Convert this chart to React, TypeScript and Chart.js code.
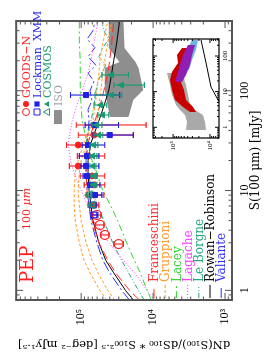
import React, { useEffect, useRef } from "react";
import { Chart, registerables } from "chart.js";

Chart.register(...registerables);

// ---------------- Main panel axes ----------------
const xRange = [0.8, 500];
const yRange = [800, 800000];
const xTickValues = [1, 10, 100];
const yTickValues = [1000, 10000, 100000];
const yTickLabels = ["10³", "10⁴", "10⁵"];

// ---------------- Models (S in mJy, counts) ----------------
const modelS = [0.8, 1, 1.5, 2, 3, 5, 7, 10, 15, 20, 30, 50, 70, 100, 150, 200, 300, 500];
const franceschiniC = [15500, 21300, 33200, 42700, 56700, 70700, 77700, 82800, 85400, 85400, 80200, 64300, 54900, 48400, 42700, 40100, 37600, 35300];
const gruppioniC = [44100, 54900, 75300, 91000, 106000, 121000, 125000, 125000, 121000, 110000, 91000, 68500, 64300, 60400, 56700, 54900, 50000, 42700];
const gruppioniBC = [34200, 42700, 58500, 70700, 85400, 100000, 106000, 110000, 106000, 100000, 82800, 60400, 56700, 53200, 50000, 46900, 42700, 37600];
const laceyC = [10600, 12100, 15100, 18200, 23400, 31100, 38800, 50000, 60400, 70700, 82800, 96900, 100000, 103000, 103000, 103000, 106000, 106000];
const lagacheC = [9690, 12100, 18200, 25800, 41400, 66400, 80200, 100000, 125000, 141000, 151000, 133000, 117000, 96900, 80200, 73000, 66400, 58500];
const rowanRobinsonC = [18800, 24200, 35300, 45500, 56700, 68500, 73000, 77700, 80200, 80200, 73000, 56700, 48400, 41400, 37600, 35300, 32100, 29200];
const leBorgneS = [0.8, 1, 1.5, 2, 3, 5, 7, 10, 15, 20, 30, 50, 70, 100, 125, 150, 180, 220, 270, 330, 400, 500];
const leBorgneC = [13300, 16000, 22000, 27400, 36500, 48400, 58500, 70700, 80200, 85400, 85400, 73000, 66400, 62300, 58500, 51600, 45500, 56700, 50000, 41400, 48400, 51600];
const valianteS = [0.8, 1, 1.5, 2, 3, 5, 7, 10, 15, 20, 30, 50, 65, 80, 100, 125, 150, 180, 220, 270, 330, 400, 500];
const valianteC = [21300, 27400, 40100, 50000, 60400, 73000, 77700, 82800, 85400, 85400, 82800, 77700, 80200, 70700, 75300, 66400, 80200, 62300, 80200, 64300, 82800, 68500, 64300];

// ---------------- Data ----------------
const goodsS = [45.4, 36.0, 28.6, 22.2, 17.6, 14.0, 11.4, 9.02, 7.16];
const goodsC = [66400, 66400, 110000, 80200, 110000, 70700, 66400, 66400, 66400];
const goodsHi = [117000, 110000, 160000, 113000, 146000, 103000, 91000, 85400, 80200];
const goodsLo = [12500, 18800, 77700, 46900, 80200, 46900, 46900, 48400, 56700];
const goodsOpenS = [5.69, 4.52, 3.59, 2.91];
const goodsOpenC = [60400, 54900, 46900, 30200];
const goodsOpenHi = [68500, 64300, 53200, 35300];
const goodsOpenLo = [53200, 48400, 41400, 25800];

const lockmanS = [90.6, 45.4, 36.0, 28.6, 22.2, 17.6, 14.0, 11.4, 9.02];
const lockmanC = [85400, 64300, 40100, 80200, 82800, 85400, 82800, 75300, 64300];
const lockmanHi = [141000, 88100, 68500, 96900, 106000, 100000, 93900, 80200, 75300];
const lockmanLo = [29200, 30200, 18800, 46900, 56700, 56700, 60400, 54900, 51600];
const lockmanOpenS = [7.16, 5.69];
const lockmanOpenC = [68500, 66400];
const lockmanOpenHi = [77700, 73000];
const lockmanOpenLo = [62300, 58500];

const cosmosS = [144, 114, 90.6, 71.9, 57.2, 45.4, 36.0, 28.6, 22.2, 17.6, 14.0, 11.4];
const cosmosC = [37600, 27400, 37600, 53200, 50000, 60400, 56700, 66400, 68500, 68500, 66400, 66400];
const cosmosHi = [51600, 35300, 64300, 66400, 58500, 70700, 66400, 75300, 75300, 75300, 73000, 73000];
const cosmosLo = [22000, 13200, 27400, 44100, 41400, 51600, 50000, 58500, 60400, 62300, 60400, 60400];
const cosmosOpenS = [9.02, 7.16];
const cosmosOpenC = [77700, 70700];
const cosmosOpenHi = [82800, 77700];
const cosmosOpenLo = [70700, 64300];

const isoS = [489, 268, 194, 169, 102, 80.7, 54.6];
const isoHi = [41400, 41400, 29200, 46900, 46900, 44100, 40100];
const isoLo = [25800, 25000, 17600, 16000, 13700, 18800, 22000];

// ---------------- Inset ----------------
const insetXRange = [0.5, 300];
const insetYRange = [5700, 350000];
const insetXTicks = [1, 10, 100];
const insetYTicks = [10000, 100000];
const insetYTickLabels = ["10⁴", "10⁵"];

const insetGrayS = [33.5, 15.4, 8.07, 4.23, 3.06, 2.21, 1.41, 0.84];
const insetGrayHi = [146000, 121000, 107000, 83400, 64900, 47500, 41900, 44600];
const insetGrayLo = [57300, 44600, 39400, 34800, 25500, 15500, 13600, 12800];
const insetRedS = [169, 107, 64, 35.7, 21.3, 11.1, 5.84, 3.71, 2.69];
const insetRedHi = [57300, 78300, 73500, 107000, 121000, 107000, 88700, 53800, 34800];
const insetRedLo = [30700, 34800, 39400, 57300, 64900, 50600, 44600, 28800, 23900];
const insetBlueS = [283, 148, 77.6, 40.6];
const insetBlueHi = [30700, 41900, 53800, 69000];
const insetBlueLo = [21100, 23900, 30700, 37000];
const insetPurpleS = [205, 107, 56.2, 29.4, 18.7];
const insetPurpleHi = [39400, 53800, 64900, 78300, 88700];
const insetPurpleLo = [25500, 30700, 34800, 44600, 57300];
const insetLineS = [283, 64, 13.5, 5.84, 3.06];
const insetLineC = [17500, 12800, 9380, 6050, 4000];

const COL = {
  goods: "#ff1f1f",
  lockman: "#1f1fe6",
  cosmos: "#169a6e",
  iso: "#8e8e8e",
  franceschini: "#ff2a2a",
  gruppioni: "#ff9a2e",
  lacey: "#2fd62f",
  lagache: "#ff3cff",
  leBorgne: "#1fa878",
  rowan: "#000000",
  valiante: "#2f2fff",
};

const models = [
  { name: "Franceschini", s: modelS, c: franceschiniC, color: COL.franceschini, dash: [9, 4] },
  { name: "Gruppioni", s: modelS, c: gruppioniC, color: COL.gruppioni, dash: [3, 2] },
  { name: "", s: modelS, c: gruppioniBC, color: COL.gruppioni, dash: [3, 2] },
  { name: "Lacey", s: modelS, c: laceyC, color: COL.lacey, dash: [7, 3, 2, 3] },
  { name: "Lagache", s: modelS, c: lagacheC, color: COL.lagache, dash: [1, 2] },
  { name: "Le Borgne", s: leBorgneS, c: leBorgneC, color: COL.leBorgne, dash: [5, 2, 1, 2, 1, 2] },
  { name: "Rowan−Robinson", s: modelS, c: rowanRobinsonC, color: COL.rowan, dash: [] },
  { name: "Valiante", s: valianteS, c: valianteC, color: COL.valiante, dash: [10, 3, 2, 3] },
];

const pts = (s: number[], c: number[]) => s.map((v, i) => ({ x: v, y: c[i] }));

function logTicks(min: number, max: number) {
  const out: { v: number; major: boolean }[] = [];
  for (let d = Math.floor(Math.log10(min)); d <= Math.ceil(Math.log10(max)); d++) {
    for (let m = 1; m < 10; m++) {
      const v = m * Math.pow(10, d);
      if (v >= min * 0.9999 && v <= max * 1.0001) out.push({ v, major: m === 1 });
    }
  }
  return out;
}

function framePlugin(id: string, majorLen: number, minorLen: number, lw: number, color: string) {
  return {
    id,
    afterDatasetsDraw(chart: any) {
      const { ctx, chartArea: a } = chart;
      const xs = chart.scales.x;
      const ys = chart.scales.y;
      ctx.save();
      ctx.setLineDash([]);
      ctx.strokeStyle = color;
      ctx.lineWidth = 1;
      ctx.beginPath();
      for (const t of logTicks(xs.min, xs.max)) {
        const len = t.major ? majorLen : minorLen;
        const p = xs.getPixelForValue(t.v);
        ctx.moveTo(p, a.bottom);
        ctx.lineTo(p, a.bottom - len);
        ctx.moveTo(p, a.top);
        ctx.lineTo(p, a.top + len);
      }
      for (const t of logTicks(ys.min, ys.max)) {
        const len = t.major ? majorLen : minorLen;
        const p = ys.getPixelForValue(t.v);
        ctx.moveTo(a.left, p);
        ctx.lineTo(a.left + len, p);
        ctx.moveTo(a.right, p);
        ctx.lineTo(a.right - len, p);
      }
      ctx.stroke();
      ctx.lineWidth = lw;
      ctx.strokeRect(a.left, a.top, a.right - a.left, a.bottom - a.top);
      ctx.restore();
    },
  };
}

const errorBarPlugin = {
  id: "errbars",
  beforeDatasetDraw(chart: any, args: any) {
    const ds = chart.data.datasets[args.index];
    if (!ds.errLo) return;
    const meta = chart.getDatasetMeta(args.index);
    const ys = chart.scales.y;
    const ctx = chart.ctx;
    ctx.save();
    ctx.setLineDash([]);
    ctx.strokeStyle = ds.borderColor;
    ctx.lineWidth = 1.1;
    ctx.beginPath();
    meta.data.forEach((pt: any, i: number) => {
      const x = pt.x;
      const y1 = ys.getPixelForValue(ds.errHi[i]);
      const y2 = ys.getPixelForValue(ds.errLo[i]);
      ctx.moveTo(x, y1);
      ctx.lineTo(x, y2);
      ctx.moveTo(x - 3, y1);
      ctx.lineTo(x + 3, y1);
      ctx.moveTo(x - 3, y2);
      ctx.lineTo(x + 3, y2);
    });
    ctx.stroke();
    ctx.restore();
  },
};

function drawSym(ctx: CanvasRenderingContext2D, kind: string, filled: boolean, x: number, y: number, color: string) {
  ctx.strokeStyle = color;
  ctx.fillStyle = color;
  ctx.lineWidth = 1;
  ctx.beginPath();
  if (kind === "circle") ctx.arc(x, y, filled ? 3 : 3.5, 0, Math.PI * 2);
  if (kind === "square") {
    const h = filled ? 2.6 : 3;
    ctx.rect(x - h, y - h, 2 * h, 2 * h);
  }
  if (kind === "triangle") {
    const r = filled ? 3 : 3.6;
    ctx.moveTo(x, y - r);
    ctx.lineTo(x + r * 0.95, y + r * 0.7);
    ctx.lineTo(x - r * 0.95, y + r * 0.7);
    ctx.closePath();
  }
  if (filled) ctx.fill();
  else ctx.stroke();
}

const legendPlugin = {
  id: "pepLegend",
  afterDraw(chart: any) {
    const ctx: CanvasRenderingContext2D = chart.ctx;
    ctx.save();
    ctx.textBaseline = "middle";
    ctx.textAlign = "left";
    // title
    ctx.fillStyle = COL.goods;
    ctx.font = '18px "DejaVu Serif"';
    ctx.fillText("PEP", 70, 28);
    ctx.font = '11px "DejaVu Serif"';
    ctx.fillText("100 ", 123, 27);
    const w = ctx.measureText("100 ").width;
    ctx.font = 'italic 11px "DejaVu Serif"';
    ctx.fillText("μm", 123 + w, 27);

    // data legend
    const rows = [
      { y: 26, kind: "circle", color: COL.goods, text: "GOODS−N" },
      { y: 37, kind: "square", color: COL.lockman, text: "Lockman" },
      { y: 47, kind: "triangle", color: COL.cosmos, text: "COSMOS" },
    ];
    ctx.font = '11px "DejaVu Serif"';
    for (const r of rows) {
      drawSym(ctx, r.kind, false, 241, r.y, r.color);
      drawSym(ctx, r.kind, true, 249, r.y, r.color);
      ctx.fillStyle = r.color;
      ctx.fillText(r.text, 255, r.y + 1);
    }
    ctx.fillStyle = COL.lockman;
    ctx.fillText("XMM", 312, 38);
    ctx.fillStyle = COL.iso;
    ctx.fillRect(229, 54, 14, 8);
    ctx.fillStyle = "#a0a0a0";
    ctx.fillText("ISO", 247, 59);

    // model legend
    ctx.font = '12px "DejaVu Serif"';
    let row = 0;
    for (const m of models) {
      if (!m.name) continue;
      const y = 154 + row * 11.2;
      ctx.strokeStyle = m.color;
      ctx.lineWidth = 1;
      ctx.setLineDash(m.dash);
      ctx.beginPath();
      ctx.moveTo(55, y);
      ctx.lineTo(68, y);
      ctx.stroke();
      ctx.setLineDash([]);
      ctx.fillStyle = m.color;
      ctx.fillText(m.name, 71, y + 1);
      row++;
    }
    ctx.restore();
  },
};

function mainConfig(): any {
  const datasets: any[] = [
    { data: pts(isoS, isoHi), borderColor: "rgba(0,0,0,0)", borderWidth: 0, pointRadius: 0, fill: false, order: 100 },
    { data: pts(isoS, isoLo), borderColor: "rgba(0,0,0,0)", borderWidth: 0, pointRadius: 0, fill: "-1", backgroundColor: COL.iso, order: 100 },
    ...models.map((m) => ({
      data: pts(m.s, m.c),
      borderColor: m.color,
      borderWidth: 1,
      borderDash: m.dash,
      pointRadius: 0,
      fill: false,
      order: 50,
    })),
    { data: pts(goodsS, goodsC), showLine: false, pointStyle: "circle", pointRadius: 3, backgroundColor: COL.goods, borderColor: COL.goods, borderWidth: 1, errHi: goodsHi, errLo: goodsLo, order: 3 },
    { data: pts(goodsOpenS, goodsOpenC), showLine: false, pointStyle: "circle", pointRadius: 4.5, backgroundColor: "rgba(0,0,0,0)", borderColor: COL.goods, borderWidth: 1.2, errHi: goodsOpenHi, errLo: goodsOpenLo, order: 3 },
    { data: pts(lockmanS, lockmanC), showLine: false, pointStyle: "rect", pointRadius: 3.6, backgroundColor: COL.lockman, borderColor: COL.lockman, borderWidth: 1, errHi: lockmanHi, errLo: lockmanLo, order: 2 },
    { data: pts(lockmanOpenS, lockmanOpenC), showLine: false, pointStyle: "rect", pointRadius: 4, backgroundColor: "rgba(0,0,0,0)", borderColor: COL.lockman, borderWidth: 1.2, errHi: lockmanOpenHi, errLo: lockmanOpenLo, order: 2 },
    { data: pts(cosmosS, cosmosC), showLine: false, pointStyle: "triangle", pointRadius: 3.5, backgroundColor: COL.cosmos, borderColor: COL.cosmos, borderWidth: 1, errHi: cosmosHi, errLo: cosmosLo, order: 1 },
    { data: pts(cosmosOpenS, cosmosOpenC), showLine: false, pointStyle: "triangle", pointRadius: 4, backgroundColor: "rgba(0,0,0,0)", borderColor: COL.cosmos, borderWidth: 1.2, errHi: cosmosOpenHi, errLo: cosmosOpenLo, order: 1 },
  ];
  return {
    type: "line",
    data: { datasets },
    options: {
      animation: false,
      responsive: false,
      maintainAspectRatio: false,
      devicePixelRatio: 1,
      layout: { padding: { top: 13, right: 21, left: 0, bottom: 0 } },
      plugins: { legend: { display: false }, tooltip: { enabled: false } },
      scales: {
        x: {
          type: "logarithmic",
          position: "bottom",
          min: xRange[0],
          max: xRange[1],
          grid: { display: false, drawTicks: false },
          border: { display: false },
          afterBuildTicks: (s: any) => {
            s.ticks = xTickValues.map((v) => ({ value: v }));
          },
          afterFit: (s: any) => {
            s.height = 32;
          },
          ticks: {
            autoSkip: false,
            maxRotation: 0,
            padding: 6,
            color: "#000",
            font: { family: "Liberation Serif", size: 12 },
            callback: (v: any) => String(v),
          },
          title: {
            display: true,
            text: "S(100 μm) [mJy]",
            color: "#000",
            font: { family: "DejaVu Serif", size: 12 },
            padding: { top: 0, bottom: 1 },
          },
        },
        y: {
          type: "logarithmic",
          position: "left",
          min: yRange[0],
          max: yRange[1],
          grid: { display: false, drawTicks: false },
          border: { display: false },
          afterBuildTicks: (s: any) => {
            s.ticks = yTickValues.map((v) => ({ value: v }));
          },
          afterFit: (s: any) => {
            s.width = 53;
          },
          ticks: {
            autoSkip: false,
            padding: 9,
            color: "#000",
            font: { family: "Liberation Serif", size: 12 },
            callback: (v: any) => yTickLabels[yTickValues.indexOf(Number(v))] ?? "",
          },
          title: {
            display: true,
            text: "dN(S₁₀₀)/dS₁₀₀ * S₁₀₀²·⁵ [deg⁻² mJy¹·⁵]",
            color: "#000",
            font: { family: "DejaVu Serif", size: 11.5 },
            padding: { top: 2, bottom: 0 },
          },
        },
      },
    },
    plugins: [errorBarPlugin, framePlugin("mainFrame", 7, 3.5, 2, "#555"), legendPlugin],
  };
}

const insetBg = {
  id: "insetBg",
  beforeDatasetsDraw(chart: any) {
    const { ctx, chartArea: a } = chart;
    ctx.save();
    ctx.fillStyle = "#fff";
    ctx.fillRect(a.left, a.top, a.right - a.left, a.bottom - a.top);
    ctx.restore();
  },
};

function band(s: number[], hi: number[], lo: number[], color: string, order: number) {
  return [
    { data: pts(s, hi), borderColor: "rgba(0,0,0,0)", borderWidth: 0, pointRadius: 0, fill: false, order },
    { data: pts(s, lo), borderColor: "rgba(0,0,0,0)", borderWidth: 0, pointRadius: 0, fill: "-1", backgroundColor: color, order },
  ];
}

function insetConfig(): any {
  const datasets: any[] = [
    ...band(insetGrayS, insetGrayHi, insetGrayLo, "#a9a9a9", 40),
    ...band(insetRedS, insetRedHi, insetRedLo, "#c80000", 30),
    ...band(insetBlueS, insetBlueHi, insetBlueLo, "#6fb4e0", 20),
    ...band(insetPurpleS, insetPurpleHi, insetPurpleLo, "#8e1fb4", 10),
    { data: pts(insetLineS, insetLineC), borderColor: "#000", borderWidth: 1, pointRadius: 0, fill: false, order: 1 },
  ];
  const tickFont = { family: "Liberation Serif", size: 7 };
  return {
    type: "line",
    data: { datasets },
    options: {
      animation: false,
      responsive: false,
      maintainAspectRatio: false,
      devicePixelRatio: 1,
      layout: { padding: { top: 8, right: 6, left: 0, bottom: 0 } },
      plugins: { legend: { display: false }, tooltip: { enabled: false } },
      scales: {
        x: {
          type: "logarithmic",
          min: insetXRange[0],
          max: insetXRange[1],
          grid: { display: false, drawTicks: false },
          border: { display: false },
          afterBuildTicks: (s: any) => {
            s.ticks = insetXTicks.map((v) => ({ value: v }));
          },
          afterFit: (s: any) => {
            s.height = 16;
          },
          ticks: { autoSkip: false, maxRotation: 0, padding: 2, color: "#000", font: tickFont, callback: (v: any) => String(v) },
        },
        y: {
          type: "logarithmic",
          min: insetYRange[0],
          max: insetYRange[1],
          grid: { display: false, drawTicks: false },
          border: { display: false },
          afterBuildTicks: (s: any) => {
            s.ticks = insetYTicks.map((v) => ({ value: v }));
          },
          afterFit: (s: any) => {
            s.width = 40;
          },
          ticks: {
            autoSkip: false,
            padding: 3,
            color: "#000",
            font: tickFont,
            callback: (v: any) => insetYTickLabels[insetYTicks.indexOf(Number(v))] ?? "",
          },
        },
      },
    },
    plugins: [insetBg, framePlugin("insetFrame", 4, 2, 1.2, "#000")],
  };
}

export default function App() {
  const mainRef = useRef<HTMLCanvasElement>(null);
  const insetRef = useRef<HTMLCanvasElement>(null);
  useEffect(() => {
    const main = new Chart(mainRef.current as HTMLCanvasElement, mainConfig());
    const inset = new Chart(insetRef.current as HTMLCanvasElement, insetConfig());
    return () => {
      main.destroy();
      inset.destroy();
    };
  }, []);
  return (
    <div
      style={{
        position: "fixed",
        left: 0,
        top: 0,
        width: 353,
        height: 264,
        transformOrigin: "0 0",
        transform: "translate(0px, 353px) rotate(-90deg)",
        background: "#fff",
      }}
    >
      <canvas ref={mainRef} width={353} height={264} style={{ position: "absolute", left: 0, top: 0, width: 353, height: 264 }} />
      <canvas ref={insetRef} width={145} height={90} style={{ position: "absolute", left: 175, top: 145, width: 145, height: 90 }} />
    </div>
  );
}
